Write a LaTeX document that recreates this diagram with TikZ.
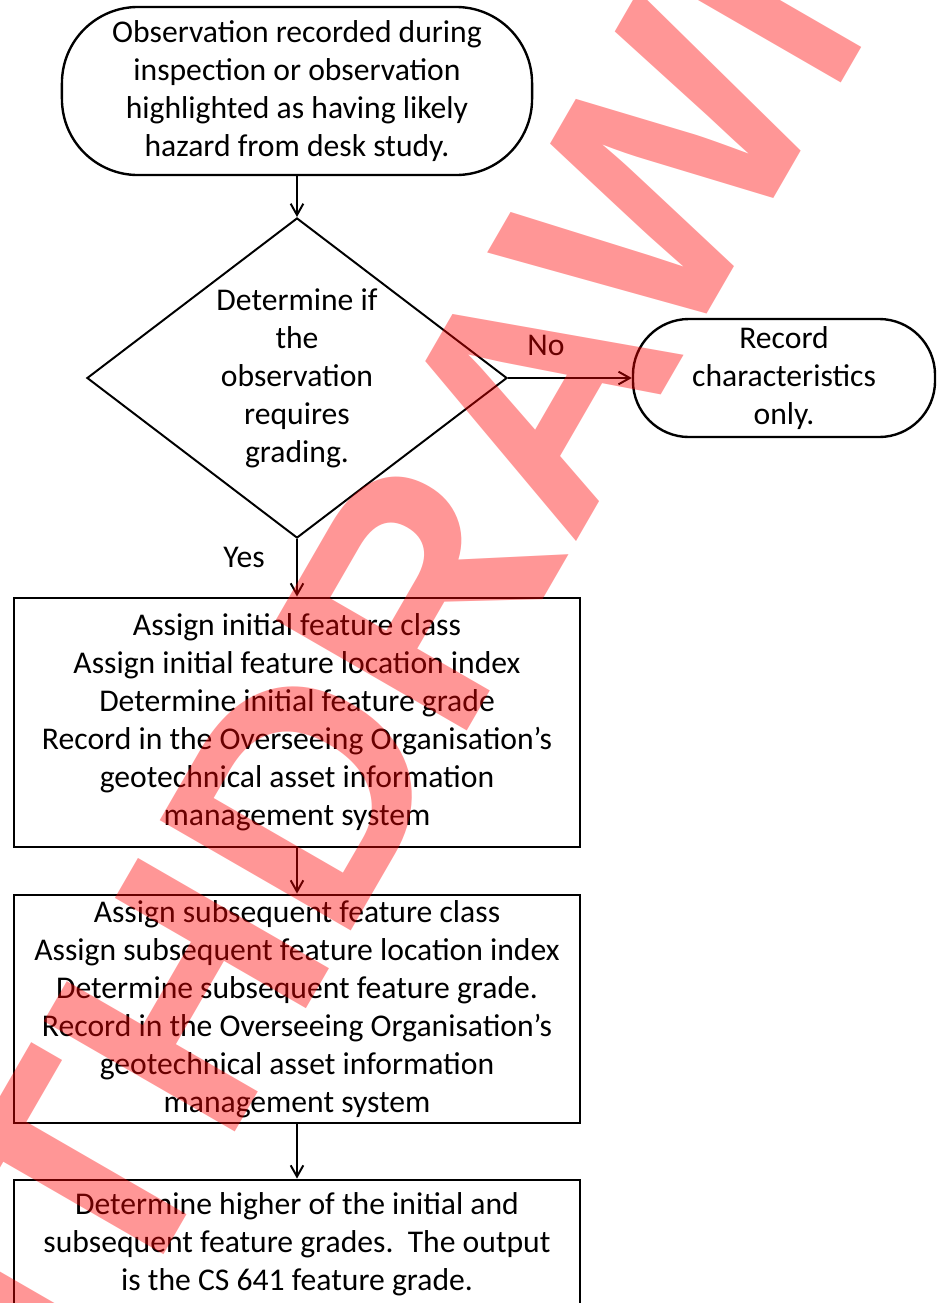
\documentclass[tikz,border=0pt]{standalone}
\usepackage{fontspec}
\setmainfont{Carlito}
\newfontfamily\stampfont{Liberation Sans}
\usetikzlibrary{shapes, arrows.meta, positioning}

\definecolor{stampred}{RGB}{255, 0, 0}

\tikzset{
  terminal/.style={draw, line width=1.7pt, align=center, inner sep=0pt},
  decision/.style={draw, diamond, line width=1.4pt, align=center, inner sep=0pt, aspect=1.3125, minimum width=10.5cm, minimum height=8cm},
  process/.style={draw, line width=2pt, align=center, inner sep=0pt, minimum width=14.15cm},
  flow/.style={-{Straight Barb[length=8pt, width=9pt]}, line width=1.4pt},
}

\begin{document}
\begin{tikzpicture}[x=0.025cm, y=-0.025cm, font=\fontsize{22.5}{27}\selectfont]
  \useasboundingbox (0,0) rectangle (937,1303);

  % Start
  \node[terminal, rounded corners=1.9cm, minimum width=11.75cm, minimum height=4.2cm] (obs) at (297, 91) {Observation recorded during\\inspection or observation\\highlighted as having likely\\hazard from desk study.};

  % Decision
  \node[decision] (decide) at (297, 378) {Determine if\\the\\observation\\requires\\grading.};
  \draw[flow] (obs) -- (decide);

  % No branch
  \node[terminal, rounded corners=1.4cm, minimum width=7.55cm, minimum height=2.95cm] (recchar) at (784, 378) {Record\\characteristics\\only.};
  \draw[flow] (decide.east) -- (recchar.west);
  \node (nolbl) at (546, 345) {No};

  % Yes branch
  \node[process, minimum height=6.225cm] (initial) at (297, 722.5) {Assign initial feature class\\Assign initial feature location index\\Determine initial feature grade\\Record in the Overseeing Organisation’s\\geotechnical asset information\\management system};
  \draw[flow] (decide.south) -- (initial.north);
  \node (yeslbl) at (244, 557) {Yes};

  \node[process, minimum height=5.7cm] (subseq) at (297, 1009) {Assign subsequent feature class\\Assign subsequent feature location index\\Determine subsequent feature grade.\\Record in the Overseeing Organisation’s\\geotechnical asset information\\management system};
  \draw[flow] (initial) -- (subseq);

  \node[process, minimum height=3.2cm] (higher) at (297, 1244) {Determine higher of the initial and\\subsequent feature grades.\ \ The output\\is the CS 641 feature grade.};
  \draw[flow] (subseq) -- (higher);

  % Stamp
  \node[text=stampred, text opacity=0.41, rotate=60, inner sep=0pt, font=\stampfont\bfseries\fontsize{228}{228}\selectfont] (stamp) at (343, 725) {WITHDRAWN};
\end{tikzpicture}
\end{document}
